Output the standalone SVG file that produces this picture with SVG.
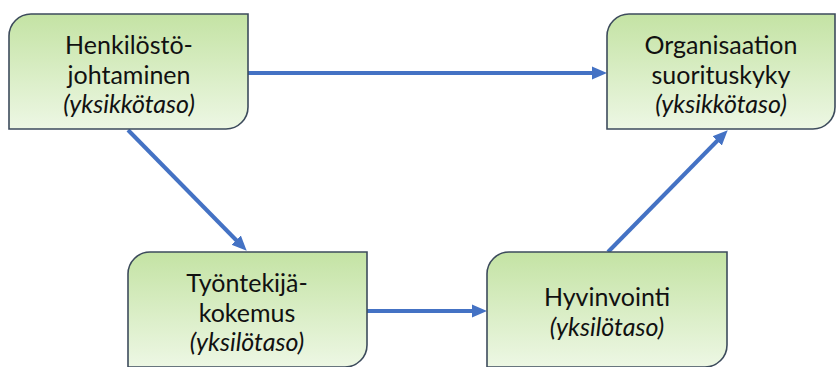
<svg xmlns="http://www.w3.org/2000/svg" width="837" height="367" viewBox="0 0 837 367">
  <defs>
    <linearGradient id="boxFill" x1="0" y1="0" x2="0" y2="1">
      <stop offset="0" stop-color="#c4e3a4"/>
      <stop offset="1" stop-color="#edf7e4"/>
    </linearGradient>
    <!-- arrowhead: tip sits 11px beyond the end of the line -->
    <marker id="arrow" markerUnits="userSpaceOnUse" markerWidth="15" markerHeight="15" viewBox="0 0 15 15" refX="4" refY="7.5" orient="auto">
      <path d="M0,1 L15,7.5 L0,14 Z" fill="#4472c4"/>
    </marker>
  </defs>
  <style>
    .box { fill: url(#boxFill); stroke: #3d4b5c; stroke-width: 1.6; }
    .lbl { font-family: Lato, "Open Sans", "Liberation Sans", sans-serif; font-size: 25px; fill: #111111; text-anchor: middle; }
    .it { font-style: italic; }
    .conn { stroke: #4472c4; stroke-width: 4; fill: none; marker-end: url(#arrow); }
  </style>
  <rect width="837" height="367" fill="#ffffff"/>

  <g id="connectors">
    <line class="conn" x1="248" y1="73" x2="596" y2="73"/>
    <line class="conn" x1="128" y1="130" x2="239" y2="243"/>
    <line class="conn" x1="367" y1="311" x2="476" y2="311"/>
    <line class="conn" x1="608" y1="252" x2="720" y2="138"/>
  </g>

  <g id="henkilostojohtaminen">
    <path class="box" d="M31,14 H248 V107 A22,22 0 0 1 226,129 H9 V36 A22,22 0 0 1 31,14 Z"/>
    <text class="lbl" x="129" y="54">Henkilöstö-</text>
    <text class="lbl" x="129" y="84">johtaminen</text>
    <text class="lbl it" x="129" y="113">(yksikkötaso)</text>
  </g>

  <g id="organisaation-suorituskyky">
    <path class="box" d="M629,14 H835 V107 A22,22 0 0 1 813,129 H607 V36 A22,22 0 0 1 629,14 Z"/>
    <text class="lbl" x="721" y="54">Organisaation</text>
    <text class="lbl" x="721" y="84">suorituskyky</text>
    <text class="lbl it" x="721" y="113">(yksikkötaso)</text>
  </g>

  <g id="tyontekijakokemus">
    <path class="box" d="M150,252 H367 V345 A22,22 0 0 1 345,367 H128 V274 A22,22 0 0 1 150,252 Z"/>
    <text class="lbl" x="247" y="292">Työntekijä-</text>
    <text class="lbl" x="247" y="322">kokemus</text>
    <text class="lbl it" x="247" y="351">(yksilötaso)</text>
  </g>

  <g id="hyvinvointi">
    <path class="box" d="M509,252 H727 V345 A22,22 0 0 1 705,367 H487 V274 A22,22 0 0 1 509,252 Z"/>
    <text class="lbl" x="607" y="306">Hyvinvointi</text>
    <text class="lbl it" x="607" y="336">(yksilötaso)</text>
  </g>
</svg>
